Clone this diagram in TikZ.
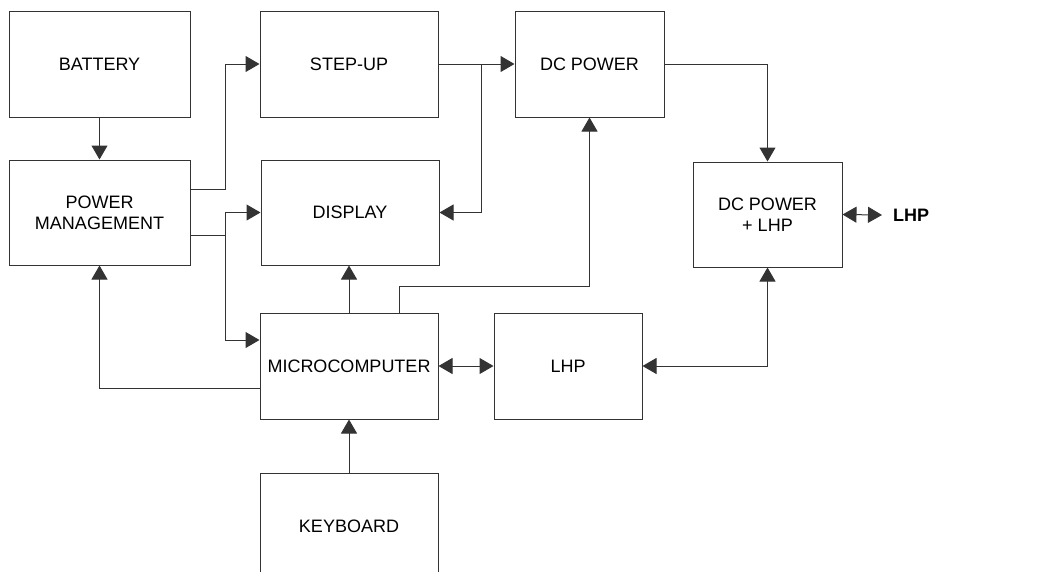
\documentclass[tikz,border=0pt]{standalone}
\usepackage{fontspec}
\setmainfont{Liberation Sans}
\usetikzlibrary{arrows.meta}
\begin{document}
\begin{tikzpicture}[x=1pt,y=-1pt,
  box/.style={draw=black!80,line width=1pt,inner sep=0pt,align=center,font=\fontsize{18}{21}\selectfont},
  arr/.style={draw=black!80,line width=1pt,-{Triangle[length=14pt,width=16pt]}},
  arrtwo/.style={draw=black!80,line width=1pt,{Triangle[length=14pt,width=16pt]}-{Triangle[length=14pt,width=16pt]}}]
\useasboundingbox (0,0) rectangle (1048,571);
\node[box,minimum width=181pt,minimum height=106pt] (bat) at (99.5,64) {BATTERY};
\node[box,minimum width=181pt,minimum height=105pt] (pm) at (99.5,212.5) {POWER\\MANAGEMENT};
\node[box,minimum width=178pt,minimum height=106pt] (step) at (349,64) {STEP-UP};
\node[box,minimum width=178pt,minimum height=105pt] (disp) at (350,212.5) {DISPLAY};
\node[box,minimum width=149pt,minimum height=106pt] (dc) at (589.5,64) {DC POWER};
\node[box,minimum width=149pt,minimum height=105pt] (dclhp) at (767.5,214.5) {DC POWER\\+ LHP};
\node[box,minimum width=178pt,minimum height=106pt] (micro) at (349,366) {MICROCOMPUTER};
\node[box,minimum width=148pt,minimum height=106pt] (lhp) at (568,366) {LHP};
\node[box,minimum width=178pt,minimum height=106pt] (kb) at (349,526) {KEYBOARD};
\node[inner sep=0pt,font=\fontsize{18}{21}\selectfont\bfseries,anchor=west] (lhpout) at (893,215) {LHP};
\coordinate (j1) at (225,189);
\coordinate (j2) at (225,235);
\coordinate (j3) at (225,340);
\coordinate (j4) at (481,64);
\coordinate (j5) at (399,286);
\coordinate (j6) at (99.5,388);
\coordinate (lo) at (882,215);
\draw[arr] (bat) -- (pm);
\draw[arr] (pm.east |- j1) -- (j1) |- (step.west);
\draw[arr] (pm.east |- j2) -- (j2) |- (disp.west);
\draw[arr] (j2) -- (j3) -- (micro.west |- j3);
\draw[arr] (step) -- (dc);
\draw[arr] (j4) |- (disp.east);
\draw[arr] (dc.east) -| (dclhp.north);
\draw[arr] (micro.north) -- (micro.north |- disp.south);
\draw[arr] (micro.north -| j5) -- (j5) -| (dc.south);
\draw[arr] (micro.west |- j6) -| (pm.south);
\draw[arrtwo] (micro) -- (lhp);
\draw[arrtwo] (lhp.east) -| (dclhp.south);
\draw[arr] (kb) -- (micro);
\draw[arrtwo] (dclhp.east) -- (lo);
\end{tikzpicture}
\end{document}
